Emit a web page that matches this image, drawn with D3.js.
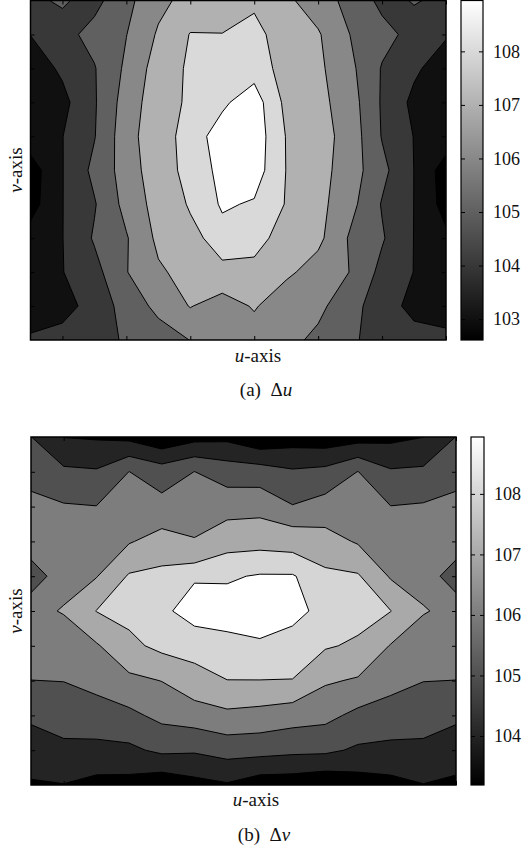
<!DOCTYPE html>
<html>
<head>
<meta charset="utf-8">
<script src="https://cdn.jsdelivr.net/npm/d3@7"></script>
<style>
  body { margin: 0; background: #fff; }
  svg { display: block; }
  text { font-family: "Liberation Serif", "DejaVu Serif", serif; fill: #111; }
</style>
</head>
<body>
<svg id="fig" width="524" height="851"></svg>
<script>
// ---- data -------------------------------------------------------------
// grid nodes: 14 columns along u, 11 rows along v (row 0 = top)
const uIndex = d3.range(14);
const vIndex = d3.range(11);
const uTickIndex = [1, 3, 5, 7, 9, 11, 13];
const vTickIndex = [1, 2, 3, 4, 5, 6, 7, 8, 9];

// (a) Δu
const duLevels = [103, 104, 105, 106, 107, 108, 108.5];
const duTicks = [103, 104, 105, 106, 107, 108];
const duRange = [102.61, 108.95];
const duGrid = [
  [104.85, 105.10, 104.70, 105.73, 106.73, 107.35, 107.75, 107.88, 107.20, 106.49, 105.69, 104.75, 105.05, 104.85],
  [104.02, 104.67, 105.33, 105.98, 107.12, 108.04, 108.01, 108.20, 107.66, 107.10, 105.99, 105.31, 104.70, 104.10],
  [103.45, 104.17, 104.94, 106.19, 107.46, 108.15, 108.25, 108.30, 107.78, 107.21, 106.24, 104.93, 104.18, 103.45],
  [103.30, 103.72, 104.90, 106.45, 107.58, 108.15, 108.42, 108.75, 107.87, 107.31, 106.46, 104.89, 103.75, 103.30],
  [103.60, 103.98, 104.95, 106.61, 107.66, 108.29, 108.70, 108.80, 107.98, 107.42, 106.60, 104.94, 103.97, 103.60],
  [102.50, 103.97, 105.26, 106.44, 107.64, 108.24, 108.62, 108.75, 107.99, 107.38, 106.50, 105.28, 103.99, 102.50],
  [102.60, 103.98, 104.92, 106.33, 107.39, 108.09, 108.56, 108.45, 107.97, 107.31, 106.32, 104.93, 103.99, 102.60],
  [103.40, 103.98, 105.11, 105.92, 107.22, 107.77, 108.33, 108.30, 107.65, 107.25, 105.88, 105.10, 103.98, 103.20],
  [103.55, 103.97, 104.66, 105.96, 106.86, 107.35, 107.82, 107.76, 107.20, 106.56, 105.98, 104.71, 103.98, 103.50],
  [103.60, 103.58, 104.44, 105.36, 106.28, 107.05, 106.50, 107.10, 106.35, 106.25, 105.36, 104.47, 103.70, 103.50],
  [104.10, 104.42, 104.70, 105.09, 105.50, 106.02, 106.30, 106.50, 106.30, 105.77, 105.10, 104.75, 104.38, 104.27]
];

// (b) Δv
const dvLevels = [104, 105, 106, 107, 108, 108.6];
const dvTicks = [104, 105, 106, 107, 108];
const dvRange = [103.19, 108.94];
const dvGrid = [
  [105.02, 103.98, 103.90, 103.74, 103.20, 103.67, 103.75, 103.18, 103.50, 103.38, 103.57, 103.75, 103.99, 105.02],
  [105.62, 105.19, 105.10, 106.01, 105.52, 106.01, 105.57, 105.49, 105.13, 105.29, 106.02, 105.12, 105.19, 105.62],
  [106.30, 106.09, 106.02, 106.46, 106.31, 106.20, 106.54, 106.63, 106.05, 106.40, 106.45, 106.02, 106.10, 106.30],
  [106.81, 106.42, 106.49, 106.92, 107.40, 107.10, 107.74, 107.78, 107.70, 107.40, 106.90, 106.45, 106.43, 106.81],
  [105.28, 106.75, 106.95, 108.10, 108.25, 108.55, 108.53, 108.65, 108.65, 108.20, 108.10, 106.90, 106.76, 105.28],
  [106.80, 107.05, 108.02, 108.30, 108.50, 108.80, 108.85, 108.98, 108.75, 108.45, 108.35, 108.02, 107.05, 106.80],
  [106.60, 106.58, 106.90, 107.75, 108.26, 108.34, 108.43, 108.50, 108.40, 108.10, 107.85, 106.95, 106.60, 106.60],
  [105.99, 106.02, 106.29, 106.78, 107.02, 107.66, 107.99, 107.99, 107.98, 107.12, 106.90, 106.30, 106.02, 105.99],
  [105.18, 105.43, 105.58, 105.77, 106.26, 106.50, 106.78, 106.65, 106.43, 106.28, 105.75, 105.60, 105.43, 105.18],
  [104.50, 104.78, 104.73, 104.80, 105.20, 105.12, 105.39, 105.36, 105.23, 105.20, 104.85, 104.75, 104.78, 104.50],
  [103.90, 103.97, 103.70, 103.65, 103.30, 103.67, 103.90, 103.44, 103.42, 103.20, 103.50, 103.70, 103.97, 103.80]
];

// ---- drawing ------------------------------------------------------------
const svg = d3.select("#fig");
const defs = svg.append("defs");
const gray = t => d3.rgb(Math.round(255 * t), Math.round(255 * t), Math.round(255 * t)).toString();

function panel(cfg) {
  const { id, grid, levels, ticks, range, plot, bar, uLabel, caption } = cfg;
  const x = d3.scaleLinear().domain([0, uIndex.length - 1]).range([plot.x0, plot.x1]);
  const y = d3.scaleLinear().domain([0, vIndex.length - 1]).range([plot.y0, plot.y1]);
  const c = d3.scaleLinear().domain(range).range([0, 1]).clamp(true);

  // clip to the plot rectangle
  defs.append("clipPath").attr("id", "clip-" + id)
    .append("rect")
    .attr("x", plot.x0).attr("y", plot.y0)
    .attr("width", plot.x1 - plot.x0).attr("height", plot.y1 - plot.y0);

  const g = svg.append("g").attr("clip-path", `url(#clip-${id})`);

  // lowest band underneath everything
  g.append("rect")
    .attr("x", plot.x0).attr("y", plot.y0)
    .attr("width", plot.x1 - plot.x0).attr("height", plot.y1 - plot.y0)
    .attr("fill", gray(c(range[0])));

  // filled contour bands (marching squares on the node grid)
  const contours = d3.contours()
    .size([uIndex.length, vIndex.length])
    .thresholds(levels)(grid.flat());

  // contour coordinates put node (i, j) at (i + 0.5, j + 0.5)
  const proj = d3.geoTransform({
    point(px, py) { this.stream.point(x(px - 0.5), y(py - 0.5)); }
  });
  const path = d3.geoPath(proj);

  g.selectAll("path.band").data(contours).join("path")
    .attr("class", "band")
    .attr("d", path)
    .attr("fill", (d, i) => gray(c(i === levels.length - 1 ? range[1] : d.value)))
    .attr("stroke", "#000")
    .attr("stroke-width", 1)
    .attr("stroke-linejoin", "round");

  // inward ticks on all four sides
  const tickLen = 4;
  svg.append("g").attr("transform", `translate(0,${plot.y1})`)
    .call(d3.axisBottom(x).tickValues(uTickIndex).tickSize(-tickLen).tickFormat(""))
    .call(s => s.select(".domain").remove());
  svg.append("g").attr("transform", `translate(0,${plot.y0})`)
    .call(d3.axisTop(x).tickValues(uTickIndex).tickSize(-tickLen).tickFormat(""))
    .call(s => s.select(".domain").remove());
  svg.append("g").attr("transform", `translate(${plot.x0},0)`)
    .call(d3.axisLeft(y).tickValues(vTickIndex).tickSize(-tickLen).tickFormat(""))
    .call(s => s.select(".domain").remove());
  svg.append("g").attr("transform", `translate(${plot.x1},0)`)
    .call(d3.axisRight(y).tickValues(vTickIndex).tickSize(-tickLen).tickFormat(""))
    .call(s => s.select(".domain").remove());

  // frame
  svg.append("rect")
    .attr("x", plot.x0).attr("y", plot.y0)
    .attr("width", plot.x1 - plot.x0).attr("height", plot.y1 - plot.y0)
    .attr("fill", "none").attr("stroke", "#000").attr("stroke-width", 1.5);

  // colour bar
  const cb = d3.scaleLinear().domain(range).range([bar.y1, bar.y0]);
  const grad = defs.append("linearGradient").attr("id", "grad-" + id)
    .attr("x1", 0).attr("y1", 1).attr("x2", 0).attr("y2", 0);
  grad.append("stop").attr("offset", 0).attr("stop-color", gray(0));
  grad.append("stop").attr("offset", 1).attr("stop-color", gray(1));
  svg.append("rect")
    .attr("x", bar.x0).attr("y", bar.y0)
    .attr("width", bar.x1 - bar.x0).attr("height", bar.y1 - bar.y0)
    .attr("fill", `url(#grad-${id})`)
    .attr("stroke", "#000").attr("stroke-width", 1.2);
  svg.append("g").attr("transform", `translate(${bar.x0},0)`)
    .call(d3.axisLeft(cb).tickValues(ticks).tickSize(-tickLen).tickFormat(""))
    .call(s => s.select(".domain").remove());
  const ax = svg.append("g").attr("transform", `translate(${bar.x1},0)`)
    .call(d3.axisRight(cb).tickValues(ticks).tickSize(-tickLen).tickPadding(10).tickFormat(d3.format("d")));
  ax.select(".domain").remove();
  ax.selectAll("text")
    .attr("font-family", '"Liberation Serif", serif')
    .attr("font-size", 18).attr("fill", "#111");

  // axis titles
  const uText = svg.append("text")
    .attr("x", uLabel.x).attr("y", uLabel.y)
    .attr("text-anchor", "middle").attr("font-size", 19);
  uText.append("tspan").attr("font-style", "italic").text("u");
  uText.append("tspan").text("-axis");

  const vText = svg.append("text")
    .attr("transform", `translate(${cfg.vLabel.x},${cfg.vLabel.y}) rotate(-90)`)
    .attr("text-anchor", "middle").attr("font-size", 19);
  vText.append("tspan").attr("font-style", "italic").text("v");
  vText.append("tspan").text("-axis");

  // panel caption
  const cap = svg.append("text")
    .attr("x", caption.x).attr("y", caption.y)
    .attr("text-anchor", "middle").attr("font-size", 19)
    .attr("xml:space", "preserve");
  cap.append("tspan").text(caption.tag + "  \u0394");
  cap.append("tspan").attr("font-style", "italic").text(caption.sym);
}

panel({
  id: "du", grid: duGrid, levels: duLevels, ticks: duTicks, range: duRange,
  plot: { x0: 30.5, x1: 446, y0: 0.5, y1: 340 },
  bar: { x0: 461, x1: 483, y0: 0.5, y1: 340 },
  uLabel: { x: 258, y: 362 },
  vLabel: { x: 22, y: 170 },
  caption: { x: 266, y: 396, tag: "(a)", sym: "u" }
});

panel({
  id: "dv", grid: dvGrid, levels: dvLevels, ticks: dvTicks, range: dvRange,
  plot: { x0: 31, x1: 456, y0: 437, y1: 785 },
  bar: { x0: 471, x1: 484, y0: 437, y1: 785 },
  uLabel: { x: 256, y: 806 },
  vLabel: { x: 22, y: 611 },
  caption: { x: 264, y: 841, tag: "(b)", sym: "v" }
});
</script>
</body>
</html>
